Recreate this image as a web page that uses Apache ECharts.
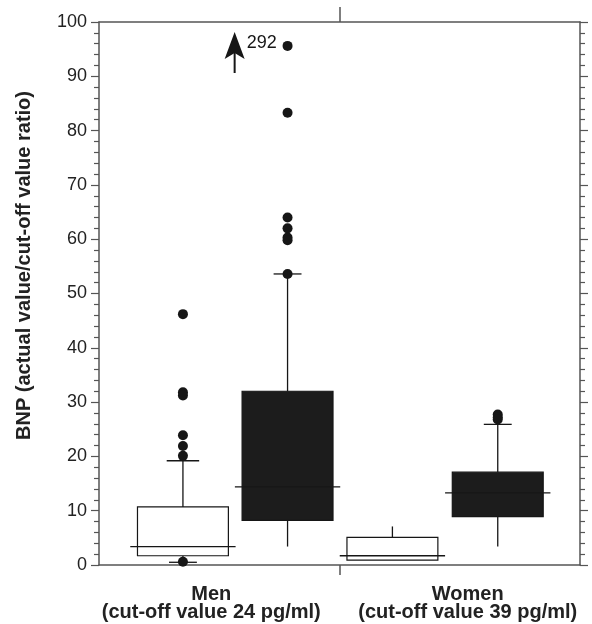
<!DOCTYPE html>
<html>
<head>
	<meta charset="utf-8">
	<title>BNP</title>
	<style type="text/css">
		body{
			margin: 0px;
		}
		.chart{
			width: 592px;
			height: 624px;
		}
	</style>
	<script type="text/javascript" src="https://cdn.jsdelivr.net/npm/echarts@6/dist/echarts.min.js"></script>
</head>
<body>
	<div id="chart" class="chart"></div>
	<script type="text/javascript">
		// data
		var groupLabels = ['Men', 'Women'];
		var cutoffNotes = ['(cut-off value 24 pg/ml)', '(cut-off value 39 pg/ml)'];
		// [min, Q1, median, Q3, max] per group
		var openBoxStats = [[0.5, 1.7, 3.4, 10.7, 19.2], [0.9, 0.9, 1.7, 5.1, 7.1]];
		var filledBoxStats = [[3.4, 8.2, 14.4, 32.0, 53.6], [3.4, 8.9, 13.3, 17.1, 25.9]];
		var openOutliers = [[46.2, 31.8, 31.2, 23.9, 21.9, 20.1, 0.6], []];
		var filledOutliers = [[95.6, 83.3, 64.0, 62.0, 60.3, 59.8, 53.6], [27.7, 27.2, 26.8]];
		var offScaleValues = [[], [292]]; // per kind (open, filled), Men only
		var yTickValues = [0, 10, 20, 30, 40, 50, 60, 70, 80, 90, 100];

		// layout (in group-width units)
		var boxShift = [[-0.151, 0.284], [-0.28, 0.158]];
		var boxWidth = 0.378;
		var upperCap = [[0.135, 0.116], [0, 0.116]];
		var lowerCap = [[0.116, 0], [0, 0]];
		var medianExt = 0.03;
		var arrowShift = -0.22;
		var font = "'Liberation Sans', Arial, sans-serif";
		var ink = '#161616';
		var axisColor = '#555';

		function boxX(g, kind){
			return g + 0.5 + boxShift[g][kind];
		}

		var boxData = [];
		var dotData = [];
		[openBoxStats, filledBoxStats].forEach(function(stats, kind){
			stats.forEach(function(s, g){
				boxData.push([g, kind].concat(s));
			});
		});
		[openOutliers, filledOutliers].forEach(function(list, kind){
			list.forEach(function(vals, g){
				vals.forEach(function(v){
					dotData.push([boxX(g, kind), v]);
				});
			});
		});
		var arrowData = [];
		offScaleValues.forEach(function(vals, kind){
			vals.forEach(function(v){
				arrowData.push([0, kind, v]);
			});
		});

		function renderBox(params, api){
			var g = api.value(0), kind = api.value(1);
			var cx = boxX(g, kind);
			var x = api.coord([cx, 0])[0];
			var unit = api.size([1, 0])[0];
			var w = boxWidth * unit;
			var y = function(v){ return api.coord([cx, v])[1]; };
			var mn = api.value(2), q1 = api.value(3), md = api.value(4), q3 = api.value(5), mx = api.value(6);
			var line = function(x1, y1, x2, y2){
				return {type: 'line', shape: {x1: x1, y1: y1, x2: x2, y2: y2}, style: {stroke: ink, lineWidth: 1.3}};
			};
			var kids = [line(x, y(mx), x, y(q3)), line(x, y(q1), x, y(mn))];
			var uc = upperCap[g][kind] * unit / 2, lc = lowerCap[g][kind] * unit / 2;
			if(uc) kids.push(line(x - uc, y(mx), x + uc, y(mx)));
			if(lc) kids.push(line(x - lc, y(mn), x + lc, y(mn)));
			kids.push({
				type: 'rect',
				shape: {x: x - w / 2, y: y(q3), width: w, height: y(q1) - y(q3)},
				style: {fill: kind ? '#1c1c1c' : '#fff', stroke: ink, lineWidth: 1.2}
			});
			var e = medianExt * unit;
			kids.push(line(x - w / 2 - e, y(md), x + w / 2 + e, y(md)));
			return {type: 'group', children: kids};
		}

		function renderArrow(params, api){
			var g = api.value(0), kind = api.value(1);
			var x = api.coord([boxX(g, kind) + arrowShift, 0])[0];
			var top = api.coord([0, 100])[1] + 10;
			return {type: 'group', children: [
				{type: 'line', shape: {x1: x, y1: top + 15, x2: x, y2: top + 41}, style: {stroke: ink, lineWidth: 2}},
				{type: 'polygon', shape: {points: [[x, top], [x - 10, top + 27], [x, top + 21], [x + 10, top + 27]]}, style: {fill: ink}},
				{type: 'text', x: x + 12, y: top + 11, style: {text: String(api.value(2)), fill: ink, font: '18px ' + font, verticalAlign: 'middle'}}
			]};
		}

		var chart = echarts.init(document.getElementById('chart'));
		var labelRich = {
			l: {fontSize: 20, fontWeight: 'bold', fontFamily: font, color: '#222', lineHeight: 18, padding: [0, 16, 0, 0]},
			r: {fontSize: 20, fontWeight: 'bold', fontFamily: font, color: '#222', lineHeight: 18, padding: [0, 0, 0, 16]}
		};
		var yCommon = {
			type: 'value',
			min: yTickValues[0],
			max: yTickValues[yTickValues.length - 1],
			interval: yTickValues[1] - yTickValues[0],
			axisLine: {show: true, onZero: false, lineStyle: {color: axisColor, width: 1.5}},
			axisTick: {show: true, length: 8, lineStyle: {color: axisColor, width: 1.2}},
			minorTick: {show: true, splitNumber: 5, length: 5, lineStyle: {color: axisColor, width: 1.2}},
			splitLine: {show: false}
		};
		chart.setOption({
			backgroundColor: '#fff',
			animation: false,
			grid: {left: 99, right: 12, top: 22, bottom: 59, outerBoundsMode: 'none', containLabel: false},
			xAxis: [{
				type: 'value', min: 0, max: 2, position: 'bottom',
				axisLine: {show: true, onZero: false, lineStyle: {color: axisColor, width: 1.5}},
				axisTick: {show: true, customValues: [1], length: 10, lineStyle: {color: axisColor, width: 1.5}},
				axisLabel: {
					customValues: [0.5, 1.5],
					margin: 20,
					formatter: function(v){
						var i = Math.round(v - 0.5);
						var s = i ? 'r' : 'l';
						return '{' + s + '|' + groupLabels[i] + '}\n{' + s + '|' + cutoffNotes[i] + '}';
					},
					rich: labelRich
				},
				splitLine: {show: false}
			}, {
				type: 'value', min: 0, max: 2, position: 'top',
				axisLine: {show: true, onZero: false, lineStyle: {color: axisColor, width: 1.5}},
				axisTick: {show: true, customValues: [1], length: 15, lineStyle: {color: axisColor, width: 1.5}},
				axisLabel: {show: false},
				splitLine: {show: false}
			}],
			yAxis: [Object.assign({}, yCommon, {
				position: 'left',
				name: 'BNP (actual value/cut-off value ratio)',
				nameLocation: 'middle',
				nameGap: 65,
				nameRotate: 90,
				nameTextStyle: {fontSize: 20, fontWeight: 'bold', fontFamily: font, color: '#222', padding: [0, 0, 0, 56]},
				axisLabel: {fontSize: 18, fontFamily: font, color: '#222', margin: 12}
			}), Object.assign({}, yCommon, {
				position: 'right',
				axisLabel: {show: false}
			})],
			series: [{
				type: 'custom',
				renderItem: renderBox,
				data: boxData,
				encode: {x: 0, y: [2, 3, 4, 5, 6]},
				z: 2
			}, {
				type: 'scatter',
				data: dotData,
				symbol: 'circle',
				symbolSize: 10,
				itemStyle: {color: ink, opacity: 1},
				z: 3
			}, {
				type: 'custom',
				renderItem: renderArrow,
				data: arrowData,
				encode: {x: 0, y: -1},
				z: 3
			}]
		});
	</script>
</body>
</html>
